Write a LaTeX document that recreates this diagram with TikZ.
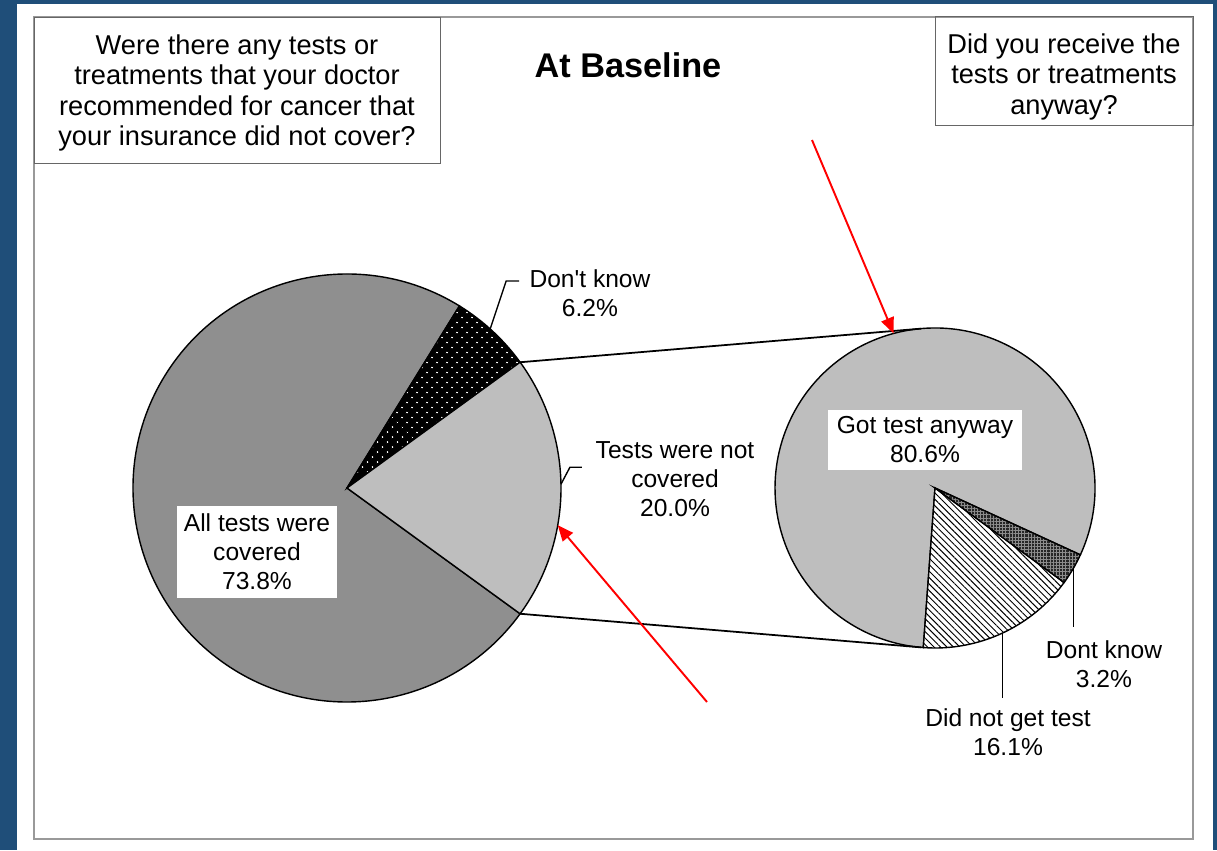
\documentclass[tikz,border=0pt]{standalone}
\usepackage{fontspec}
\setmainfont{Liberation Sans}
\usetikzlibrary{positioning,calc,patterns.meta,arrows.meta}
\definecolor{slideblue}{HTML}{1F4E79}
\definecolor{lightslice}{HTML}{BEBEBE}
\definecolor{darkslice}{HTML}{8F8F8F}
\tikzstyle{question}=[rectangle,draw=black!60,thin,inner sep=3pt,align=center,font=\fontsize{15.5}{17.4}\selectfont]
\tikzstyle{pielabel}=[inner sep=0pt,align=center,font=\fontsize{14}{16.5}\selectfont]
\tikzstyle{piebox}=[pielabel,fill=white]
\tikzstyle{pie}=[circle,inner sep=0pt,outer sep=0pt]
\tikzstyle{slice}=[draw=black,line width=0.8pt]
\tikzstyle{leader}=[draw=black,line width=0.8pt]
\tikzstyle{pointer}=[draw=red,line width=1.1pt,-{Triangle[length=9pt,width=7.5pt]}]

\begin{document}
\begin{tikzpicture}[x=0.02cm,y=0.02cm]
    \fill[slideblue] (0,0) rectangle (1217,850);
    \fill[white] (17,0) rectangle (1213,846);
    \draw[black!40,line width=1.1pt] (34,11) rectangle (1193,833);

    \node[question,minimum width=8.12cm,minimum height=2.92cm](qcover) at (237,760){\rule{0pt}{14.6pt}Were there any tests or\\treatments that your doctor\\recommended for cancer that\\your insurance did not cover?};
    \node[question,minimum width=5.16cm,minimum height=2.16cm](qanyway) at (1064,779){\rule{0pt}{18pt}Did you receive the\\tests or treatments\\anyway?};
    \node[font=\bfseries\fontsize{19.5}{22}\selectfont](title) at (628,785){At Baseline};

    \node[pie,minimum size=8.56cm](pieL) at (347,362){};
    \node[pie,minimum size=6.4cm](pieR) at (935,362){};

    % left pie
    \draw[slice,fill=darkslice] (pieL.center) -- ++(58.3:214) arc[start angle=58.3,end angle=324,radius=214] -- cycle;
    \draw[slice,preaction={fill=black},pattern={Dots[distance=4pt,radius=0.55pt,angle=45]},pattern color=white] (pieL.center) -- ++(36:214) arc[start angle=36,end angle=58.3,radius=214] -- cycle;
    \draw[slice,fill=lightslice] (pieL.center) -- ++(-36:214) arc[start angle=-36,end angle=36,radius=214] -- cycle;

    % right pie
    \draw[slice,fill=lightslice] (pieR.center) -- ++(-24.7:160) arc[start angle=-24.7,end angle=265.8,radius=160] -- cycle;
    \draw[slice,preaction={fill=white},pattern={Lines[angle=-45,distance=2.6pt,line width=0.55pt]}] (pieR.center) -- ++(265.8:160) arc[start angle=265.8,end angle=323.8,radius=160] -- cycle;
    \draw[slice,preaction={fill=black!85},pattern={Hatch[distance=1.8pt,line width=0.35pt]},pattern color=black!45] (pieR.center) -- ++(323.8:160) arc[start angle=323.8,end angle=335.3,radius=160] -- cycle;

    % zoom lines
    \draw[line width=1pt](pieL.36) -- (pieR.95);
    \draw[line width=1pt](pieL.-36) -- (pieR.265);

    % labels
    \node[piebox,minimum width=3.22cm,minimum height=1.86cm](allcov) at (257,298){All tests were\\covered\\73.8\%};
    \node[piebox,minimum width=3.88cm,minimum height=1.2cm](gotany) at (925,410){Got test anyway\\80.6\%};

    \node[pielabel](dkL) at (590,557){Don\textquotesingle t know\\6.2\%};
    \draw[leader](pieL.48) -- ++(16,48) -- ++(13,0);
    \node[pielabel](notcov) at (675,371){Tests were not\\covered\\20.0\%};
    \draw[leader](pieL.1) -- ++(9,17) -- ++(12,0);

    \node[pielabel](dkR) at (1104,186){Dont know\\3.2\%};
    \draw[leader](pieR.-30.4) -- ++(0,-59);
    \node[pielabel](nogot) at (1008,118){Did not get test\\16.1\%};
    \draw[leader](pieR.-65) -- ++(0,-65);

    % red pointers
    \coordinate (ptrA) at (812,710);
    \coordinate (ptrB) at (707,148);
    \draw[pointer](ptrA) -- (pieR.105);
    \draw[pointer](ptrB) -- (pieL.-10);
\end{tikzpicture}
\end{document}
